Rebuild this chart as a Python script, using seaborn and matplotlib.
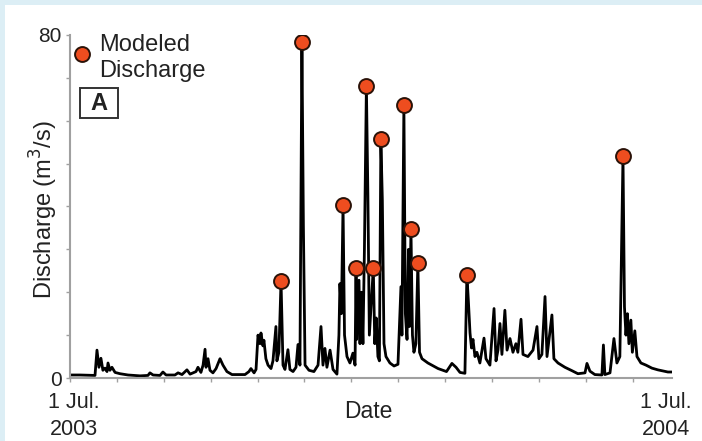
import numpy as np
import pandas as pd
import matplotlib
matplotlib.use("Agg")
import matplotlib.pyplot as plt
from matplotlib.patches import Rectangle
import seaborn as sns

# Daily discharge (day offset from 1 Jul 2003, m3/s)
days = [0, 6, 15.2, 16.4, 17.6, 18.8, 20, 21.3, 22.5, 23.1, 24.3, 25.5, 27.4, 30.4, 35.3,
        42.6, 47.4, 48.6, 50.5, 54.7, 56.5, 58.4, 63.8, 65.7, 68.1, 71.1, 73, 76.6, 77.8,
        79.6, 80.9, 82.1, 82.7, 83.9, 85.1, 86.9, 88.8, 91.2, 93, 95.4, 98.5, 106.4, 108.8,
        110, 111.9, 113.1, 114.3, 115.5, 116.1, 117.3, 117.9, 119.1, 120.4, 122.2, 123.4,
        125.2, 125.8, 127, 128.3, 129.5, 130.7, 132.5, 133.7, 135.6, 137.4, 138.6, 139.8,
        141, 141.9, 142.9, 145.3, 148.3, 150.8, 152.6, 153.8, 155, 156.2, 158.1, 159.9,
        162.3, 163.5, 164.1, 165, 166, 166.9, 168.4, 170.2, 172, 173.3, 173.9, 174.3, 174.8,
        175.7, 176.3, 177.2, 178.1, 179, 180.2, 181.1, 182, 183.2, 184.4, 185.3, 186.2,
        187.2, 188.1, 189, 189.9, 190.9, 192.1, 194.5, 197, 199.4, 201.2, 201.8, 203, 203.9,
        204.9, 205.8, 206.4, 207.3, 208.2, 209.1, 210.3, 211.5, 212.5, 214, 217.6, 220,
        223.8, 228.9, 232.2, 234.7, 237.1, 240.1, 241.3, 242.2, 243.2, 244.1, 245, 246.2,
        247.4, 249.2, 251.7, 252.9, 255.3, 257.8, 259, 260.2, 261.4, 262.6, 264.4, 265.7,
        267.5, 269.3, 271.1, 272.3, 274.2, 275.4, 278.4, 281.5, 283.9, 285.1, 286.9, 288.8,
        290, 293, 294.2, 296.7, 300.9, 305.2, 308.8, 313.1, 314.3, 316.1, 319.1, 323.4,
        324.3, 325.2, 328.3, 330.7, 332.5, 334.3, 336.2, 337.1, 338, 338.9, 339.8, 341,
        341.9, 343.4, 344.7, 347.1, 350.2, 353.8, 357.4, 361.1, 363.5, 366]
discharge = [0.7, 0.7, 0.6, 6.5, 2.5, 4.6, 1.8, 2.3, 1.5, 3.5, 1.8, 2.5, 1.3, 1.0, 0.7,
             0.5, 0.6, 1.2, 0.7, 0.6, 1.4, 0.7, 0.7, 1.2, 0.8, 1.9, 0.9, 1.5, 2.5,
             1.3, 3.0, 6.7, 2.5, 4.5, 1.8, 1.2, 2.2, 4.5, 3.0, 1.5, 0.8, 0.8, 1.5,
             2.2, 1.2, 2.0, 10, 8.0, 10.5, 7.5, 8.8, 4.5, 3.0, 2.2, 4.0,
             12, 4, 6, 22.6, 3.0, 2.0, 6.6, 2.0, 1.5, 2.5, 7.8, 3.0,
             78.3, 35.3, 3.0, 1.8, 1.5, 3.0, 12, 3.0, 6.9, 2.5, 6.5, 2.0,
             0.9, 10, 22, 15, 40.3, 10, 5.0, 3.5, 5.8, 3.0, 25.6, 9, 14,
             22.8, 8, 20, 8, 30, 68, 43, 10, 18, 25.6, 8, 14,
             5.0, 4.0, 55.7, 41.5, 8, 5.0, 3.5, 2.8, 3.2, 21.3, 10, 63.6, 15,
             9.0, 30, 12, 34.7, 10, 6, 8, 26.8, 6, 4.5, 3.5, 3.0,
             2.2, 1.5, 3.4, 2.5, 1.3, 1.1, 24, 18, 10.5, 7.0, 9, 5.0,
             6, 3.5, 9.3, 4.5, 3.0, 16.2, 4, 6.5, 12.7, 5.5, 15.8, 6.5,
             9.2, 6, 8, 6, 13.7, 5.5, 5, 6.5, 12, 4.5, 5.5, 19,
             5, 14.7, 4.5, 3.5, 2.5, 1.7, 1.0, 1.2, 3.4, 1.6, 0.8, 0.7,
             7.7, 0.8, 1.2, 9.2, 3.5, 5, 51.7, 16.6, 10, 15, 8, 13.5,
             6, 11, 5, 3.5, 3.0, 2.3, 1.9, 1.6, 1.4, 1.4]

# Modeled discharge peaks
peak_days = [128.3, 141, 166, 173.9, 180.2, 184.4, 189, 203, 207.3, 211.5, 241.3, 336.2]
peak_values = [22.6, 78.3, 40.3, 25.6, 68, 25.6, 55.7, 63.6, 34.7, 26.8, 24, 51.7]

series = pd.DataFrame({"day": days, "q": discharge})
peaks = pd.DataFrame({"day": peak_days, "q": peak_values})

sns.set_theme(style="white")
plt.rcParams["font.family"] = ["Liberation Sans", "DejaVu Sans"]

TXT = "#222222"
DOT = "#ee4d1f"
DOT_EDGE = "#2a1208"

fig = plt.figure(figsize=(7.02, 4.41), dpi=100)
fig.patch.set_facecolor("white")
band = "#dceef5"
fig.patches.append(Rectangle((0, 1 - 5 / 441), 1, 5 / 441, transform=fig.transFigure,
                             facecolor=band, edgecolor="none", zorder=0))
fig.patches.append(Rectangle((0, 0), 5 / 702, 1, transform=fig.transFigure,
                             facecolor=band, edgecolor="none", zorder=0))

ax = fig.add_axes([70 / 702, 1 - 378 / 441, (672 - 70) / 702, (378 - 35) / 441])
ax.set_facecolor("white")

sns.lineplot(data=series, x="day", y="q", ax=ax, color="black", linewidth=2.0,
             estimator=None, sort=False)
sns.scatterplot(data=peaks, x="day", y="q", ax=ax, s=115, color=DOT,
                edgecolor=DOT_EDGE, linewidth=1.4, zorder=5)

ax.set_xlim(0, 366)
ax.set_ylim(0, 80)
for s in ["top", "right"]:
    ax.spines[s].set_visible(False)
for s in ["left", "bottom"]:
    ax.spines[s].set_color("#a0a0a0")
    ax.spines[s].set_linewidth(1.5)

ax.set_yticks(np.arange(0, 81, 10))
ax.set_yticklabels(["0", "", "", "", "", "", "", "", "80"], fontsize=15, color=TXT)
ax.set_xticks(np.arange(0, 366, 28.5))
ax.set_xticklabels([])
ax.tick_params(axis="both", which="both", direction="out", length=3, width=1,
               color="#a0a0a0", left=True, bottom=True, pad=3)

ax.set_xlabel("")
ax.set_ylabel("")
fig.text(44 / 702, 1 - 210 / 441, "Discharge (m$^3$/s)", rotation=90, ha="center",
         va="center", fontsize=17, color=TXT)
fig.text(368 / 702, 1 - 411 / 441, "Date", ha="center", va="center", fontsize=16.5, color=TXT)
fig.text(74 / 702, 1 - 416 / 441, "1 Jul.\n2003", ha="center", va="center", fontsize=15.5,
         color=TXT, linespacing=1.4)
fig.text(666 / 702, 1 - 416 / 441, "1 Jul.\n2004", ha="center", va="center", fontsize=15.5,
         color=TXT, linespacing=1.4)

# Legend
ax.scatter([82 / 702], [1 - 54 / 441], s=115, color=DOT, edgecolor=DOT_EDGE,
           linewidth=1.4, transform=fig.transFigure, clip_on=False, zorder=6)
fig.text(99 / 702, 1 - 58 / 441, "Modeled\nDischarge", ha="left", va="center", fontsize=17,
         color=TXT, linespacing=1.2)
fig.patches.append(Rectangle((80 / 702, 1 - 118 / 441), 38 / 702, 30 / 441,
                             transform=fig.transFigure, facecolor="white",
                             edgecolor="#333333", linewidth=1.4, zorder=3))
fig.text(99 / 702, 1 - 103 / 441, "A", ha="center", va="center", fontsize=17,
         fontweight="bold", color=TXT)

fig.savefig("out.png", dpi=100, facecolor=fig.get_facecolor())
